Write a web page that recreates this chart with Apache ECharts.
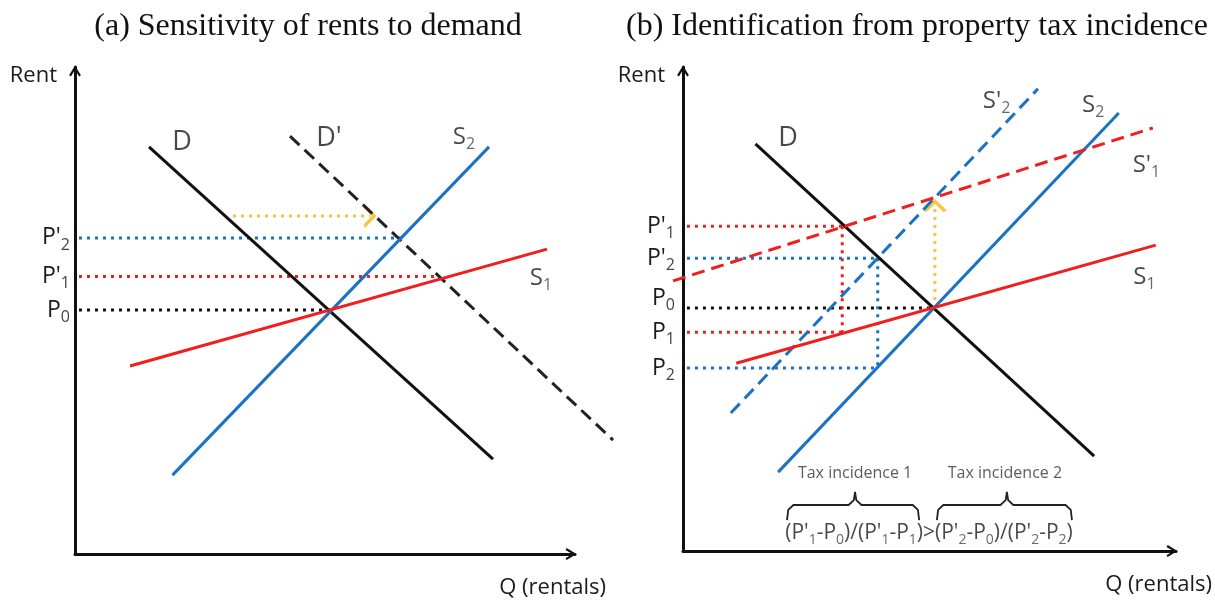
<!DOCTYPE html>
<html><head><meta charset="utf-8">
<script src="https://cdn.jsdelivr.net/npm/echarts@6/dist/echarts.min.js"></script>
<style>html,body{margin:0;padding:0;background:#fff}#c{width:1215px;height:603px}</style>
</head><body><div id="c"></div>
<script>
// ---------- Panel (a): sensitivity of rents to demand ----------
const aDemand     = [[14.8, 83.6], [83.6, 19.5]];
const aDemandNew  = [[43.0, 85.8], [107.6, 23.4]];
const aSupply2    = [[19.5, 16.2], [82.8, 83.6]];
const aSupply1    = [[11.0, 38.6], [94.4, 62.6]];
const aPrices     = [50.1, 57.0, 64.9];            // P0, P'1, P'2
const aQuantities = [51.0, 73.0, 65.2];            // where each price meets its curve
const aPriceNames = [['P', '0'], ["P'", '1'], ["P'", '2']];
const aShift      = [[31.6, 69.4], [59.0, 69.4]];  // demand shift arrow
const aCurveNames = [['D', ''], ["D'", ''], ['S', '2'], ['S', '1']];
const aCurveAt    = [[21.4, 84.6], [50.8, 85.4], [77.8, 85.6], [93.2, 56.7]];

// ---------- Panel (b): identification from property tax incidence ----------
const bDemand     = [[14.7, 84.1], [83.4, 19.6]];
const bSupply2    = [[19.3, 16.3], [88.4, 90.5]];
const bSupply2Tax = [[9.7, 28.5], [72.0, 95.5]];
const bSupply1    = [[10.8, 38.8], [95.9, 63.2]];
const bSupply1Tax = [[-2.0, 55.8], [95.3, 87.4]];
const bP0 = 50.2, bQ0 = 50.9;
const bP1Tax = 67.1, bP1 = 45.2, bQ1 = 32.3;
const bP2Tax = 60.5, bP2 = 37.8, bQ2 = 39.5;
const bPrices     = [bP1Tax, bP2Tax, bP0, bP1, bP2];
const bPriceNames = [["P'", '1'], ["P'", '2'], ['P', '0'], ['P', '1'], ['P', '2']];
const bTaxShift   = [[51.1, 50.2], [51.1, 71.4]];
const bCurveNames = [['D', ''], ["S'", '2'], ['S', '2'], ["S'", '1'], ['S', '1']];
const bCurveAt    = [[21.3, 85.3], [63.6, 93.0], [83.2, 92.1], [94.0, 79.8], [93.6, 56.6]];
const braceX      = [[21.1, 34.9, 47.9], [51.5, 65.7, 78.9]];  // left, tip, right
const braceY      = [6.4, 9.5, 12.2];                          // ends, bar, tip
const braceTexts  = ['Tax incidence 1', 'Tax incidence 2'];
const braceTextAt = [[34.9, 16.0], [65.3, 16.0]];
const formulaAt   = [49.9, 3.8];

// ---------- styles ----------
const FONT = "'Open Sans', sans-serif";
const BLACK = '#111111', BLUE = '#1a72c2', RED = '#f21d1d', YELLOW = '#f7c443';
const TXT = '#1a1a1a', SUB = '#444444';
const CHEVRON = 'path://M0,10 L6,0 L12,10 L10.2,11.2 L6,4.2 L1.8,11.2 Z';

const rich = {
  m:  {fontFamily: FONT, fontSize: 24, color: TXT, lineHeight: 30},
  b:  {fontFamily: FONT, fontSize: 27, color: TXT, lineHeight: 30},
  s:  {fontFamily: FONT, fontSize: 16, color: SUB, lineHeight: 31, verticalAlign: 'bottom'},
  p:  {fontFamily: FONT, fontSize: 23, color: TXT, lineHeight: 30},
  ps: {fontFamily: FONT, fontSize: 16, color: SUB, lineHeight: 31, verticalAlign: 'bottom'},
  gap:{fontSize: 1, lineHeight: 20},
  f:  {fontFamily: FONT, fontSize: 21, color: TXT, lineHeight: 28},
  fs: {fontFamily: FONT, fontSize: 14, color: SUB, lineHeight: 29, verticalAlign: 'bottom'}
};
function nameText(n) {
  if (n[0].startsWith('D')) return '{b|' + n[0] + '}';
  return '{m|' + n[0] + '}' + (n[1] ? '{s|' + n[1] + '}' : '');
}

function line(idx, data, color, type, width, z) {
  return {type: 'line', xAxisIndex: idx, yAxisIndex: idx, data: data, symbol: 'none',
    clip: false, silent: true, z: z || 3, animation: false,
    lineStyle: {color: color, width: width || 3, type: type || 'solid', cap: 'butt'}};
}
const DOT = [3, 5];
const DASH = [13, 7];

function arrowLine(idx, data, rot) {
  const s = line(idx, [data[0], {value: data[1], symbol: CHEVRON, symbolSize: [24, 13], symbolRotate: rot}],
                 YELLOW, DOT, 3, 4);
  s.symbol = 'none';
  s.showSymbol = true;
  s.itemStyle = {color: YELLOW};
  return s;
}

function labelSeries(idx, items) {
  return {type: 'scatter', xAxisIndex: idx, yAxisIndex: idx, symbolSize: 1, silent: true,
    itemStyle: {color: 'rgba(0,0,0,0)'}, z: 6, animation: false,
    label: {show: true, position: 'inside', rich: rich},
    data: items};
}

function priceAxis(idx, values, names, margin, lifted) {
  return {type: 'value', gridIndex: idx, min: 0, max: 100,
    splitLine: {show: false}, axisTick: {show: false},
    axisLine: {show: true, onZero: false, symbol: ['none', CHEVRON], symbolSize: [15, 11],
      symbolOffset: [0, -4], lineStyle: {color: BLACK, width: 3}},
    name: 'Rent', nameLocation: 'end', nameGap: -9,
    nameTextStyle: {fontFamily: FONT, fontSize: 22, color: TXT, align: 'right', verticalAlign: 'middle', padding: [0, 18, 0, 0]},
    axisLabel: {show: true, customValues: values, margin: margin, rich: rich,
      formatter: function (v) {
        const i = values.findIndex(function (p) { return Math.abs(p - v) < 1e-6; });
        if (i < 0) return '';
        const txt = '{p|' + names[i][0] + '}{ps|' + names[i][1] + '}';
        return lifted.indexOf(i) >= 0 ? txt + '\n{gap| }' : txt;
      }}};
}
function qAxis(idx, gap) {
  return {type: 'value', gridIndex: idx, min: 0, max: 100,
    splitLine: {show: false}, axisTick: {show: false}, axisLabel: {show: false},
    axisLine: {show: true, onZero: false, symbol: ['none', CHEVRON], symbolSize: [15, 11],
      symbolOffset: [0, -4], lineStyle: {color: BLACK, width: 3}},
    name: 'Q (rentals)', nameLocation: 'end', nameGap: gap,
    nameTextStyle: {fontFamily: FONT, fontSize: 22, color: TXT, align: 'right', verticalAlign: 'top', padding: [23, 0, 0, 0]}};
}
function hiddenX(idx, max) {
  return {type: 'value', gridIndex: idx, min: -10, max: max, show: false};
}
function hiddenY(idx) {
  return {type: 'value', gridIndex: idx, min: 0, max: 100, show: false};
}

const series = [];
// panel (a)
series.push(line(0, [[0.8, aPrices[0]], [aQuantities[0], aPrices[0]]], BLACK, DOT));
series.push(line(0, [[0.8, aPrices[1]], [aQuantities[1], aPrices[1]]], RED, DOT));
series.push(line(0, [[0.8, aPrices[2]], [aQuantities[2], aPrices[2]]], BLUE, DOT));
series.push(arrowLine(0, aShift, -90));
series.push(line(0, aDemand, BLACK, 'solid', 3, 5));
series.push(line(2, aDemandNew, '#222222', DASH, 3, 5));
series.push(line(0, aSupply2, BLUE, 'solid', 3, 5));
series.push(line(0, aSupply1, RED, 'solid', 3, 5));
series.push(labelSeries(0, aCurveNames.map(function (n, i) {
  return {value: aCurveAt[i], label: {formatter: nameText(n)}};
})));
// panel (b)
series.push(line(1, [[0.8, bP0], [bQ0, bP0]], BLACK, DOT));
series.push(line(1, [[0.8, bP1Tax], [bQ1, bP1Tax]], RED, DOT));
series.push(line(1, [[0.8, bP1], [bQ1, bP1]], RED, DOT));
series.push(line(1, [[bQ1, bP1Tax], [bQ1, bP1]], RED, DOT));
series.push(line(1, [[0.8, bP2Tax], [bQ2, bP2Tax]], BLUE, DOT));
series.push(line(1, [[0.8, bP2], [bQ2, bP2]], BLUE, DOT));
series.push(line(1, [[bQ2, bP2Tax], [bQ2, bP2]], BLUE, DOT));
series.push(arrowLine(1, bTaxShift, 0));
series.push(line(1, bDemand, BLACK, 'solid', 3, 5));
series.push(line(1, bSupply2, BLUE, 'solid', 3, 5));
series.push(line(1, bSupply2Tax, BLUE, DASH, 3, 5));
series.push(line(1, bSupply1, RED, 'solid', 3, 5));
series.push(line(3, bSupply1Tax, RED, DASH, 3, 5));
braceX.forEach(function (b) {
  const x0 = b[0], t = b[1], x1 = b[2], y0 = braceY[0], y1 = braceY[1], y2 = braceY[2];
  series.push(line(1, [[x0, y0], [x0 + 0.25, y1 - 1.0], [x0 + 1.3, y1], [t - 1.3, y1], [t - 0.25, y1 + 1.0],
    [t, y2], [t + 0.25, y1 + 1.0], [t + 1.3, y1], [x1 - 1.3, y1], [x1 - 0.25, y1 - 1.0], [x1, y0]],
    '#222222', 'solid', 1.8, 5));
});
series.push(labelSeries(1, bCurveNames.map(function (n, i) {
  return {value: bCurveAt[i], label: {formatter: nameText(n)}};
}).concat(braceTexts.map(function (t, i) {
  return {value: braceTextAt[i], label: {formatter: t, fontFamily: FONT, fontSize: 16, color: '#333'}};
})).concat([{value: formulaAt, label: {formatter:
  "{f|(P'}{fs|1}{f|-P}{fs|0}{f|)/(P'}{fs|1}{f|-P}{fs|1}{f|)>(P'}{fs|2}{f|-P}{fs|0}{f|)/(P'}{fs|2}{f|-P}{fs|2}{f|)}"}}])));

const chart = echarts.init(document.getElementById('c'), null, {renderer: 'canvas'});
chart.setOption({
  animation: false,
  backgroundColor: '#ffffff',
  title: [
    {text: '(a) Sensitivity of rents to demand', left: 303, top: 6, textAlign: 'center',
     textStyle: {fontFamily: "'Liberation Serif', serif", fontSize: 32, fontWeight: 'normal', color: '#111'}},
    {text: '(b) Identification from property tax incidence', left: 912, top: 6, textAlign: 'center',
     textStyle: {fontFamily: "'Liberation Serif', serif", fontSize: 32, fontWeight: 'normal', color: '#111'}}
  ],
  grid: [
    {left: 75, top: 67, width: 500, height: 487},
    {left: 683, top: 67, width: 493, height: 484},
    {left: 25, top: 67, width: 600, height: 487},
    {left: 633.7, top: 67, width: 566.95, height: 484}
  ],
  xAxis: [qAxis(0, 31), qAxis(1, 36), hiddenX(2, 110), hiddenX(3, 105)],
  yAxis: [priceAxis(0, aPrices, aPriceNames, 5, []), priceAxis(1, bPrices, bPriceNames, 8, [2]), hiddenY(2), hiddenY(3)],
  series: series
});
</script></body></html>
